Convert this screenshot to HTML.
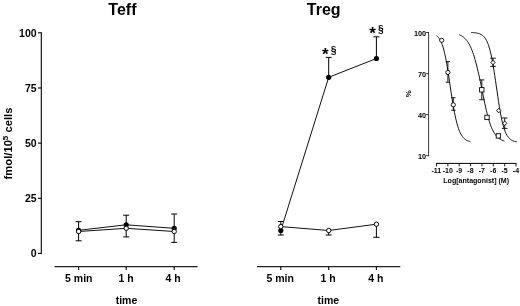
<!DOCTYPE html><html><head><meta charset="utf-8"><title>Teff Treg</title><style>html,body{margin:0;padding:0;background:#fff}svg{display:block}text{font-family:"Liberation Sans",Arial,sans-serif;font-weight:bold;fill:#000}</style></head><body>
<svg width="520" height="306" viewBox="0 0 520 306">
<rect width="520" height="306" fill="#fff"/>
<line x1="41.3" y1="32.3" x2="41.3" y2="254" stroke="#000" stroke-width="1.1"/>
<line x1="38.0" y1="253.45" x2="41.3" y2="253.45" stroke="#000" stroke-width="1.1"/>
<text x="36.6" y="257.3" font-size="10.5" text-anchor="end" >0</text>
<line x1="38.0" y1="198.2875" x2="41.3" y2="198.2875" stroke="#000" stroke-width="1.1"/>
<text x="36.6" y="202.1375" font-size="10.5" text-anchor="end" >25</text>
<line x1="38.0" y1="143.125" x2="41.3" y2="143.125" stroke="#000" stroke-width="1.1"/>
<text x="36.6" y="146.975" font-size="10.5" text-anchor="end" >50</text>
<line x1="38.0" y1="87.96249999999998" x2="41.3" y2="87.96249999999998" stroke="#000" stroke-width="1.1"/>
<text x="36.6" y="91.81249999999997" font-size="10.5" text-anchor="end" >75</text>
<line x1="38.0" y1="32.80000000000001" x2="41.3" y2="32.80000000000001" stroke="#000" stroke-width="1.1"/>
<text x="36.6" y="36.65000000000001" font-size="10.5" text-anchor="end" >100</text>
<text transform="translate(12.4,143.5) rotate(-90) scale(1.07,1)" font-size="10.5" text-anchor="middle">fmol/10<tspan font-size="7.5" dy="-4">5</tspan><tspan dy="4"> cells</tspan></text>
<line x1="54.5" y1="266.7" x2="197.5" y2="266.7" stroke="#222" stroke-width="1.2"/>
<line x1="78.6" y1="266.7" x2="78.6" y2="270.0" stroke="#000" stroke-width="1.1"/>
<text x="78.8" y="281.7" font-size="10.5" text-anchor="middle" >5 min</text>
<line x1="126.2" y1="266.7" x2="126.2" y2="270.0" stroke="#000" stroke-width="1.1"/>
<text x="126.2" y="281.7" font-size="10.5" text-anchor="middle" >1 h</text>
<line x1="174.2" y1="266.7" x2="174.2" y2="270.0" stroke="#000" stroke-width="1.1"/>
<text x="173.2" y="281.7" font-size="10.5" text-anchor="middle" >4 h</text>
<text x="126.5" y="303.9" font-size="10.5" text-anchor="middle" >time</text>
<text x="122.4" y="14.5" font-size="16" text-anchor="middle" >Teff</text>
<line x1="78.6" y1="221.7" x2="78.6" y2="240.8" stroke="#000" stroke-width="1"/>
<line x1="75.6" y1="221.7" x2="81.6" y2="221.7" stroke="#000" stroke-width="1"/>
<line x1="75.6" y1="240.8" x2="81.6" y2="240.8" stroke="#000" stroke-width="1"/>
<line x1="126.2" y1="215.2" x2="126.2" y2="236.9" stroke="#000" stroke-width="1"/>
<line x1="123.2" y1="215.2" x2="129.2" y2="215.2" stroke="#000" stroke-width="1"/>
<line x1="123.2" y1="236.9" x2="129.2" y2="236.9" stroke="#000" stroke-width="1"/>
<line x1="174.2" y1="214.0" x2="174.2" y2="242.4" stroke="#000" stroke-width="1"/>
<line x1="171.2" y1="214.0" x2="177.2" y2="214.0" stroke="#000" stroke-width="1"/>
<line x1="171.2" y1="242.4" x2="177.2" y2="242.4" stroke="#000" stroke-width="1"/>
<polyline fill="none" stroke="#111" stroke-width="1" points="78.60,230.30 126.20,224.80 174.20,228.30"/>
<circle cx="78.6" cy="230.3" r="2.6" fill="#000"/>
<circle cx="126.2" cy="224.8" r="2.6" fill="#000"/>
<circle cx="174.2" cy="228.3" r="2.6" fill="#000"/>
<polyline fill="none" stroke="#111" stroke-width="1" points="78.60,231.50 126.20,228.30 174.20,231.50"/>
<circle cx="78.6" cy="231.5" r="2.2" fill="#fff" stroke="#000" stroke-width="1"/>
<circle cx="126.2" cy="228.3" r="2.2" fill="#fff" stroke="#000" stroke-width="1"/>
<circle cx="174.2" cy="231.5" r="2.2" fill="#fff" stroke="#000" stroke-width="1"/>
<line x1="257" y1="266.7" x2="400.3" y2="266.7" stroke="#222" stroke-width="1.2"/>
<line x1="280.8" y1="266.7" x2="280.8" y2="270.0" stroke="#000" stroke-width="1.1"/>
<text x="280.2" y="281.7" font-size="10.5" text-anchor="middle" >5 min</text>
<line x1="328.7" y1="266.7" x2="328.7" y2="270.0" stroke="#000" stroke-width="1.1"/>
<text x="328.09999999999997" y="281.7" font-size="10.5" text-anchor="middle" >1 h</text>
<line x1="376.4" y1="266.7" x2="376.4" y2="270.0" stroke="#000" stroke-width="1.1"/>
<text x="375.79999999999995" y="281.7" font-size="10.5" text-anchor="middle" >4 h</text>
<text x="328.3" y="303.9" font-size="10.5" text-anchor="middle" >time</text>
<text x="323.7" y="14.9" font-size="16" text-anchor="middle" >Treg</text>
<line x1="280.8" y1="221.5" x2="280.8" y2="235" stroke="#000" stroke-width="1"/>
<line x1="277.8" y1="221.5" x2="283.8" y2="221.5" stroke="#000" stroke-width="1"/>
<line x1="277.8" y1="235" x2="283.8" y2="235" stroke="#000" stroke-width="1"/>
<line x1="328.7" y1="57.4" x2="328.7" y2="77.3" stroke="#000" stroke-width="1"/>
<line x1="325.7" y1="57.4" x2="331.7" y2="57.4" stroke="#000" stroke-width="1"/>
<line x1="376.4" y1="36.8" x2="376.4" y2="58.5" stroke="#000" stroke-width="1"/>
<line x1="373.4" y1="36.8" x2="379.4" y2="36.8" stroke="#000" stroke-width="1"/>
<line x1="328.7" y1="230.5" x2="328.7" y2="235" stroke="#000" stroke-width="1"/>
<line x1="325.7" y1="235" x2="331.7" y2="235" stroke="#000" stroke-width="1"/>
<line x1="376.4" y1="224.2" x2="376.4" y2="237.3" stroke="#000" stroke-width="1"/>
<line x1="373.25" y1="237.3" x2="379.54999999999995" y2="237.3" stroke="#000" stroke-width="1"/>
<polyline fill="none" stroke="#111" stroke-width="1" points="280.80,230.50 328.70,77.30 376.40,58.50"/>
<circle cx="280.8" cy="230.5" r="2.6" fill="#000"/>
<circle cx="328.7" cy="77.3" r="2.6" fill="#000"/>
<circle cx="376.4" cy="58.5" r="2.6" fill="#000"/>
<polyline fill="none" stroke="#111" stroke-width="1" points="280.80,226.60 328.70,230.50 376.40,224.20"/>
<circle cx="280.8" cy="226.6" r="2.2" fill="#fff" stroke="#000" stroke-width="1"/>
<circle cx="328.7" cy="230.5" r="2.2" fill="#fff" stroke="#000" stroke-width="1"/>
<circle cx="376.4" cy="224.2" r="2.2" fill="#fff" stroke="#000" stroke-width="1"/>
<text x="322.0" y="59.7" font-size="17" text-anchor="start" font-weight="normal">*</text>
<text x="333.5" y="54" font-size="10.3" text-anchor="middle" >§</text>
<text x="369.2" y="38.6" font-size="17" text-anchor="start" font-weight="normal">*</text>
<text x="380.8" y="33" font-size="10.3" text-anchor="middle" >§</text>
<line x1="428.6" y1="32" x2="428.6" y2="156.1" stroke="#222" stroke-width="0.9"/>
<line x1="426.1" y1="155.6" x2="428.6" y2="155.6" stroke="#222" stroke-width="0.9"/>
<text x="426.1" y="158.6" font-size="7.3" text-anchor="end" >10</text>
<line x1="426.1" y1="114.56666666666666" x2="428.6" y2="114.56666666666666" stroke="#222" stroke-width="0.9"/>
<text x="426.1" y="117.56666666666666" font-size="7.3" text-anchor="end" >40</text>
<line x1="426.1" y1="73.53333333333333" x2="428.6" y2="73.53333333333333" stroke="#222" stroke-width="0.9"/>
<text x="426.1" y="76.53333333333333" font-size="7.3" text-anchor="end" >70</text>
<line x1="426.1" y1="32.5" x2="428.6" y2="32.5" stroke="#222" stroke-width="0.9"/>
<text x="426.1" y="35.5" font-size="7.3" text-anchor="end" >100</text>
<text transform="translate(410.6,93.9) rotate(-90)" font-size="7.8" text-anchor="middle">%</text>
<line x1="436" y1="163.4" x2="516.5" y2="163.4" stroke="#000" stroke-width="1"/>
<line x1="436.5" y1="163.4" x2="436.5" y2="166.4" stroke="#000" stroke-width="0.9"/>
<text x="436.4" y="173.2" font-size="7.0" text-anchor="middle" >-11</text>
<line x1="447.86" y1="163.4" x2="447.86" y2="166.4" stroke="#000" stroke-width="0.9"/>
<text x="447.76" y="173.2" font-size="7.0" text-anchor="middle" >-10</text>
<line x1="459.22" y1="163.4" x2="459.22" y2="166.4" stroke="#000" stroke-width="0.9"/>
<text x="459.12" y="173.2" font-size="7.0" text-anchor="middle" >-9</text>
<line x1="470.58" y1="163.4" x2="470.58" y2="166.4" stroke="#000" stroke-width="0.9"/>
<text x="470.47999999999996" y="173.2" font-size="7.0" text-anchor="middle" >-8</text>
<line x1="481.94" y1="163.4" x2="481.94" y2="166.4" stroke="#000" stroke-width="0.9"/>
<text x="481.84" y="173.2" font-size="7.0" text-anchor="middle" >-7</text>
<line x1="493.3" y1="163.4" x2="493.3" y2="166.4" stroke="#000" stroke-width="0.9"/>
<text x="493.2" y="173.2" font-size="7.0" text-anchor="middle" >-6</text>
<line x1="504.65999999999997" y1="163.4" x2="504.65999999999997" y2="166.4" stroke="#000" stroke-width="0.9"/>
<text x="504.55999999999995" y="173.2" font-size="7.0" text-anchor="middle" >-5</text>
<line x1="516.02" y1="163.4" x2="516.02" y2="166.4" stroke="#000" stroke-width="0.9"/>
<text x="515.92" y="173.2" font-size="7.0" text-anchor="middle" >-4</text>
<text x="476.2" y="182.7" font-size="7.05" text-anchor="middle" >Log[antagonist] (M)</text>
<polyline fill="none" stroke="#111" stroke-width="1" points="436.50,35.50 437.06,35.97 437.63,36.51 438.19,37.13 438.76,37.84 439.32,38.64 439.89,39.55 440.45,40.58 441.01,41.74 441.58,43.05 442.14,44.52 442.71,46.16 443.27,47.99 443.83,50.01 444.40,52.24 444.96,54.68 445.53,57.34 446.09,60.22 446.66,63.30 447.22,66.58 447.78,70.05 448.35,73.67 448.91,77.42 449.48,81.28 450.04,85.19 450.61,89.02 451.17,92.69 451.73,96.31 452.30,99.86 452.86,103.30 453.43,106.62 453.99,109.78 454.55,112.77 455.12,115.59 455.68,118.22 456.25,120.66 456.81,122.91 457.38,124.97 457.94,126.86 458.50,128.57 459.07,130.12 459.63,131.52 460.20,132.78 460.76,133.90 461.33,134.91 461.89,135.80 462.45,136.60 463.02,137.30 463.58,137.93 464.15,138.49 464.71,138.97 465.27,139.41 465.84,139.79 466.40,140.12 466.97,140.42 467.53,140.68 468.10,140.90 468.66,141.10 469.22,141.28 469.79,141.43 470.35,141.57"/>
<polyline fill="none" stroke="#111" stroke-width="1" points="459.22,34.69 459.97,35.01 460.73,35.37 461.48,35.77 462.23,36.23 462.99,36.75 463.74,37.33 464.49,37.98 465.25,38.71 466.00,39.54 466.76,40.45 467.51,41.48 468.26,42.61 469.02,43.88 469.77,45.28 470.52,46.82 471.28,48.51 472.03,50.37 472.78,52.39 473.54,54.59 474.29,56.96 475.04,59.50 475.80,62.21 476.55,65.09 477.31,68.12 478.06,71.29 478.81,74.58 479.57,77.97 480.32,81.43 481.07,84.94 481.83,88.58 482.58,92.44 483.33,96.25 484.09,99.97 484.84,103.58 485.59,107.04 486.35,110.33 487.10,113.44 487.85,116.35 488.61,119.05 489.36,121.54 490.12,123.82 490.87,125.90 491.62,127.79 492.38,129.49 493.13,131.02 493.88,132.39 494.64,133.61 495.39,134.70 496.14,135.66 496.90,136.51 497.65,137.26 498.40,137.92 499.16,138.50 499.91,139.01 500.67,139.46 501.42,139.85 502.17,140.19 502.93,140.49 503.68,140.76 504.43,140.98"/>
<polyline fill="none" stroke="#111" stroke-width="1" points="471.15,32.48 471.91,32.52 472.67,32.56 473.43,32.62 474.19,32.69 474.95,32.77 475.71,32.87 476.48,32.99 477.24,33.13 478.00,33.31 478.76,33.52 479.52,33.78 480.28,34.09 481.04,34.46 481.80,34.91 482.56,35.45 483.33,36.10 484.09,36.87 484.85,37.80 485.61,38.90 486.37,40.20 487.13,41.73 487.89,43.54 488.65,45.64 489.41,48.07 490.18,50.86 490.94,54.02 491.70,57.58 492.46,61.54 493.22,65.86 493.98,70.52 494.74,75.47 495.50,80.62 496.26,85.90 497.03,91.21 497.79,96.45 498.55,101.52 499.31,106.36 500.07,110.88 500.83,115.04 501.59,118.83 502.35,122.22 503.12,125.22 503.88,127.85 504.64,130.13 505.40,132.10 506.16,133.78 506.92,135.22 507.68,136.43 508.44,137.45 509.20,138.30 509.97,139.02 510.73,139.62 511.49,140.12 512.25,140.53 513.01,140.87 513.77,141.16 514.53,141.40 515.29,141.59 516.05,141.75 516.82,141.89"/>
<line x1="447.9" y1="61.6" x2="447.9" y2="82.2" stroke="#000" stroke-width="0.9"/>
<line x1="445.7" y1="61.6" x2="450.09999999999997" y2="61.6" stroke="#000" stroke-width="0.9"/>
<line x1="445.7" y1="82.2" x2="450.09999999999997" y2="82.2" stroke="#000" stroke-width="0.9"/>
<line x1="453.3" y1="97.7" x2="453.3" y2="110.3" stroke="#000" stroke-width="0.9"/>
<line x1="451.1" y1="97.7" x2="455.5" y2="97.7" stroke="#000" stroke-width="0.9"/>
<line x1="451.1" y1="110.3" x2="455.5" y2="110.3" stroke="#000" stroke-width="0.9"/>
<circle cx="441.7" cy="40.3" r="2.1" fill="#fff" stroke="#000" stroke-width="0.9"/>
<circle cx="447.9" cy="72.4" r="2.1" fill="#fff" stroke="#000" stroke-width="0.9"/>
<circle cx="453.3" cy="104.8" r="2.1" fill="#fff" stroke="#000" stroke-width="0.9"/>
<line x1="481.8" y1="79.9" x2="481.8" y2="99.7" stroke="#000" stroke-width="0.9"/>
<line x1="479.2" y1="79.9" x2="484.40000000000003" y2="79.9" stroke="#000" stroke-width="0.9"/>
<line x1="479.2" y1="99.7" x2="484.40000000000003" y2="99.7" stroke="#000" stroke-width="0.9"/>
<rect x="479.6" y="87.6" width="4.4" height="4.4" fill="#fff" stroke="#000" stroke-width="0.9"/>
<rect x="484.8" y="115.2" width="4.4" height="4.4" fill="#fff" stroke="#000" stroke-width="0.9"/>
<rect x="496.2" y="133.70000000000002" width="4.4" height="4.4" fill="#fff" stroke="#000" stroke-width="0.9"/>
<line x1="493" y1="58.2" x2="493" y2="66.4" stroke="#000" stroke-width="0.9"/>
<line x1="490.2" y1="58.2" x2="495.8" y2="58.2" stroke="#000" stroke-width="0.9"/>
<line x1="490.2" y1="66.4" x2="495.8" y2="66.4" stroke="#000" stroke-width="0.9"/>
<line x1="504.7" y1="118.0" x2="504.7" y2="128.4" stroke="#000" stroke-width="0.9"/>
<line x1="501.9" y1="118.0" x2="507.5" y2="118.0" stroke="#000" stroke-width="0.9"/>
<line x1="501.9" y1="128.4" x2="507.5" y2="128.4" stroke="#000" stroke-width="0.9"/>
<path d="M490.9,62.5 L493,60.2 L495.1,62.5 L493,64.8 Z" fill="#fff" stroke="#000" stroke-width="0.9"/>
<path d="M496.59999999999997,110.6 L498.7,108.3 L500.8,110.6 L498.7,112.89999999999999 Z" fill="#fff" stroke="#000" stroke-width="0.9"/>
<path d="M502.59999999999997,123.3 L504.7,121.0 L506.8,123.3 L504.7,125.6 Z" fill="#fff" stroke="#000" stroke-width="0.9"/>
</svg></body></html>
